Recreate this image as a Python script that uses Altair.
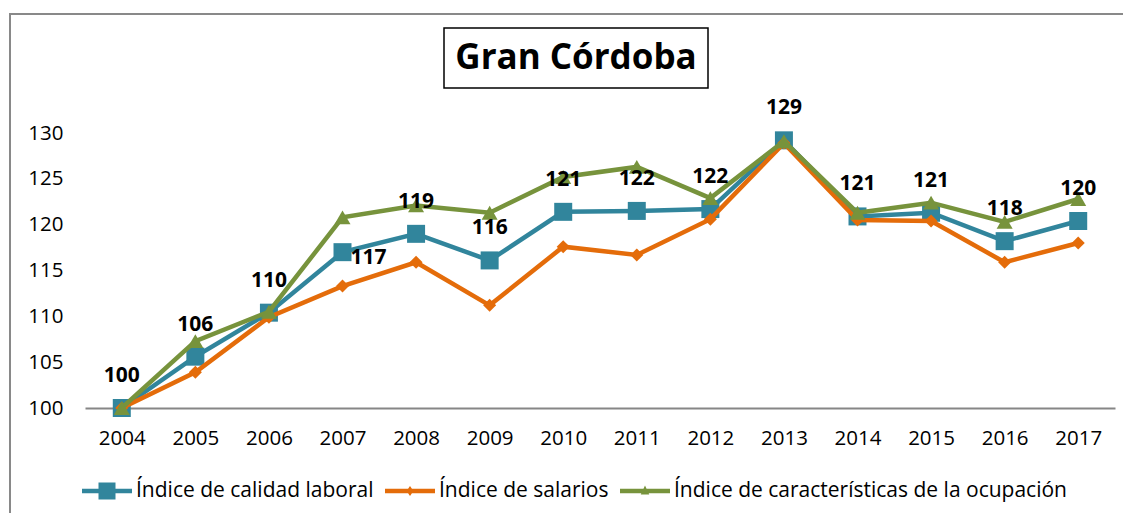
import altair as alt
import pandas as pd

anios = [str(y) for y in range(2004, 2018)]
calidad = [100, 105.6, 110.4, 117.0, 119.0, 116.1, 121.4, 121.5, 121.7, 129.2, 120.9, 121.3, 118.2, 120.4]
salarios = [100, 103.9, 109.9, 113.3, 115.9, 111.2, 117.6, 116.7, 120.6, 128.9, 120.5, 120.4, 115.9, 118.0]
caracteristicas = [100, 107.3, 110.5, 120.8, 122.1, 121.3, 125.2, 126.3, 122.9, 129.1, 121.3, 122.4, 120.3, 122.8]
etiquetas = ["100", "106", "110", "117", "119", "116", "121", "122", "122", "129", "121", "121", "118", "120"]
posicion = ["arriba", "arriba", "arriba", "derecha"] + ["arriba"] * 10
series = ["Índice de calidad laboral", "Índice de salarios", "Índice de características de la ocupación"]
colores = ["#31859C", "#E46C0A", "#77933C"]
marcadores = ["square", "diamond", "triangle-up"]
tamanos = [324, 170, 256]
# legend glyphs: line + marker (unit coords)
linea = "M-1,-0.09L1,-0.09L1,0.09L-1,0.09Z"
glifos = [
    linea + "M-0.34,-0.34L0.34,-0.34L0.34,0.34L-0.34,0.34Z",
    linea + "M-0.14,0L0,-0.2L0.14,0L0,0.2Z",
    linea + "M-0.17,0.14L0,-0.22L0.17,0.14Z",
]

FONT = "Open Sans"

rows = []
for s, vals in zip(series, [calidad, salarios, caracteristicas]):
    for a, v in zip(anios, vals):
        rows.append({"anio": a, "serie": s, "valor": v})
df = pd.DataFrame(rows)
df_lab = pd.DataFrame({"anio": anios, "valor": calidad, "etiqueta": etiquetas, "pos": posicion})

x_enc = alt.X("anio:O", title=None,
              axis=alt.Axis(labelAngle=0, ticks=False, domainColor="#868686", domainWidth=2,
                            labelFont=FONT, labelFontSize=20.5, labelColor="black", labelPadding=20, grid=False))
y_enc = alt.Y("valor:Q", title=None,
              scale=alt.Scale(domain=[100, 130], nice=False, zero=False),
              axis=alt.Axis(values=[100, 105, 110, 115, 120, 125, 130], domain=False, ticks=False, grid=False,
                            labelFont=FONT, labelFontSize=20.5, labelColor="black", labelPadding=22))

uno = alt.Data(values=[{"k": 1}])

borde = alt.Chart(uno).mark_rect(fill="white", fillOpacity=0, stroke="#898989", strokeWidth=2).encode(
    x=alt.value(-75), x2=alt.value(1060), y=alt.value(-119), y2=alt.value(420))
caja = alt.Chart(uno).mark_rect(fill="white", stroke="black", strokeWidth=1.5).encode(
    x=alt.value(359), x2=alt.value(623), y=alt.value(-105), y2=alt.value(-45))
titulo = alt.Chart(uno).mark_text(font=FONT, fontSize=35, fontWeight="bold", color="black",
                                  align="center", baseline="middle").encode(
    x=alt.value(491), y=alt.value(-75), text=alt.value("Gran Córdoba"))

capas = [borde, caja, titulo]

leg = dict(orient="none", legendX=-3, legendY=333, direction="horizontal", title=None,
           symbolSize=2500, symbolStrokeWidth=0, symbolOpacity=1, labelFont=FONT, labelFontSize=21,
           labelColor="black", labelOffset=4, columnPadding=11, padding=0, labelLimit=0)
leyenda = alt.Chart(df).mark_point(filled=True, opacity=0).encode(
    x=x_enc, y=y_enc,
    color=alt.Color("serie:N", scale=alt.Scale(domain=series, range=colores), legend=alt.Legend(**leg)),
    shape=alt.Shape("serie:N", scale=alt.Scale(domain=series, range=glifos), legend=alt.Legend(**leg)),
)
capas.append(leyenda)

for s, c, m, t in zip(series, colores, marcadores, tamanos):
    base = alt.Chart(df).transform_filter(alt.datum.serie == s)
    capas.append(base.mark_line(color=c, strokeWidth=4.5).encode(x=x_enc, y=y_enc))
    capas.append(base.mark_point(color=c, shape=m, size=t, filled=True, opacity=1).encode(x=x_enc, y=y_enc))

txt_arriba = alt.Chart(df_lab).transform_filter(alt.datum.pos == "arriba").mark_text(
    font=FONT, fontSize=21, fontWeight="bold", color="black", dy=-32).encode(x=x_enc, y=y_enc, text="etiqueta:N")
txt_der = alt.Chart(df_lab).transform_filter(alt.datum.pos == "derecha").mark_text(
    font=FONT, fontSize=21, fontWeight="bold", color="black", dx=26, dy=6).encode(x=x_enc, y=y_enc, text="etiqueta:N")
capas += [txt_arriba, txt_der]

chart = alt.layer(*capas).properties(
    width=1030, height=275,
    autosize=alt.AutoSizeParams(type="none"),
    padding={"left": 77, "top": 125, "right": 8, "bottom": 105},
    background="white",
).configure_view(stroke=None)

chart.save("out.html", embed_options={"renderer": "svg", "actions": False})
